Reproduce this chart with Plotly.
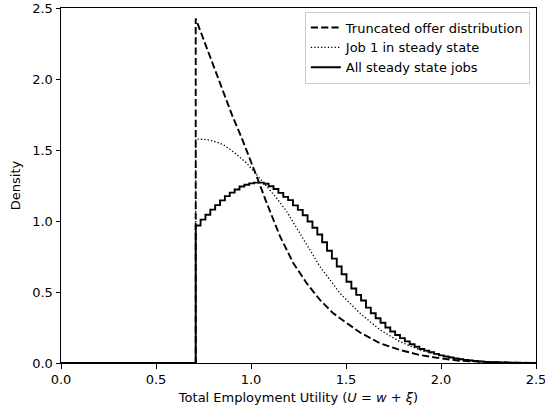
import numpy as np
import plotly.graph_objects as go

# Truncated offer distribution (density of offers above the reservation utility)
offer_x = [0.0, 0.709, 0.709, 0.75, 0.80, 0.85, 0.90, 0.951, 1.00, 1.03, 1.083, 1.153,
           1.223, 1.293, 1.363, 1.433, 1.50, 1.574, 1.679, 1.784, 1.889, 1.995,
           2.10, 2.20, 2.30, 2.40, 2.50]
offer_y = [0.0, 0.0, 2.426, 2.28, 2.103, 1.925, 1.747, 1.585, 1.42, 1.314, 1.126, 0.891,
           0.703, 0.562, 0.444, 0.350, 0.285, 0.215, 0.139, 0.092, 0.056, 0.033,
           0.016, 0.008, 0.004, 0.002, 0.001]

# Job 1 in steady state
job1_x = [0.0, 0.709, 0.709, 0.75, 0.784, 0.82, 0.854, 0.89, 0.925, 0.977, 1.03, 1.083,
          1.135, 1.188, 1.24, 1.31, 1.363, 1.416, 1.468, 1.574, 1.679, 1.784, 1.889,
          1.995, 2.10, 2.20, 2.30, 2.40, 2.50]
job1_y = [0.0, 0.0, 1.577, 1.575, 1.568, 1.555, 1.537, 1.505, 1.467, 1.408, 1.326, 1.243,
          1.161, 1.067, 0.95, 0.797, 0.679, 0.585, 0.491, 0.350, 0.233, 0.150, 0.092,
          0.056, 0.028, 0.012, 0.005, 0.002, 0.001]

# All steady state jobs: histogram of utilities
bin_start = 0.709
bin_width = 0.0256
all_jobs_heights = [
    0.968, 1.010, 1.044, 1.080, 1.112, 1.145, 1.175, 1.200, 1.222, 1.243,
    1.255, 1.265, 1.270, 1.270, 1.262, 1.245, 1.225, 1.198, 1.170, 1.147,
    1.110, 1.078, 1.040, 0.996, 0.952, 0.905, 0.850, 0.790, 0.735, 0.680,
    0.625, 0.572, 0.525, 0.480, 0.440, 0.390, 0.350, 0.315, 0.283, 0.250,
    0.222, 0.197, 0.175, 0.152, 0.132, 0.114, 0.099, 0.087, 0.076, 0.064,
    0.054, 0.046, 0.039, 0.032, 0.026, 0.022, 0.018, 0.014, 0.011, 0.008,
    0.006, 0.005, 0.004, 0.003, 0.002, 0.002, 0.001, 0.001, 0.001, 0.000,
]

edges = bin_start + bin_width * np.arange(len(all_jobs_heights) + 1)
step_x = np.concatenate([[0.0], edges])
step_y = np.concatenate([[0.0], all_jobs_heights, [all_jobs_heights[-1]]])

FONT = "DejaVu Sans"
FS = 13
fig = go.Figure()

fig.add_trace(go.Scatter(
    x=offer_x, y=offer_y, mode="lines", name="Truncated offer distribution",
    line=dict(color="black", width=1.9, dash="7.2px,3.1px"),
))
fig.add_trace(go.Scatter(
    x=job1_x, y=job1_y, mode="lines", name="Job 1 in steady state",
    line=dict(color="black", width=1.3, dash="1.3px,2.1px"),
))
fig.add_trace(go.Scatter(
    x=step_x, y=step_y, mode="lines", name="All steady state jobs",
    line=dict(color="black", width=1.9, shape="hv"),
))

axis_common = dict(
    range=[0, 2.5], tickvals=[0, 0.5, 1.0, 1.5, 2.0, 2.5],
    ticktext=["0.0", "0.5", "1.0", "1.5", "2.0", "2.5"],
    showgrid=False, zeroline=False, showline=True, mirror=True,
    linecolor="black", linewidth=1, ticks="outside", ticklen=4.5,
    tickwidth=1, tickcolor="black", automargin=False,
    ticklabeloverflow="allow",
    tickfont=dict(family=FONT, size=FS, color="black"),
)

fig.update_layout(
    width=545, height=409,
    margin=dict(l=61, r=9, t=8, b=46),
    plot_bgcolor="white", paper_bgcolor="white",
    font=dict(family=FONT, size=FS, color="black"),
    xaxis=dict(**axis_common,
               title=dict(text="Total Employment Utility (<i>U</i> = <i>w</i> + <i>ξ</i>)",
                          font=dict(family=FONT, size=FS), standoff=6)),
    yaxis=dict(**axis_common,
               title=dict(text="Density", font=dict(family=FONT, size=FS), standoff=8)),
    legend=dict(
        x=0.987, y=0.99, xanchor="right", yanchor="top",
        bgcolor="rgba(255,255,255,0.8)", bordercolor="#cccccc", borderwidth=1,
        font=dict(family=FONT, size=FS, color="black"),
        tracegroupgap=0, itemwidth=30,
    ),
    showlegend=True,
)

fig.write_html("out.html")
